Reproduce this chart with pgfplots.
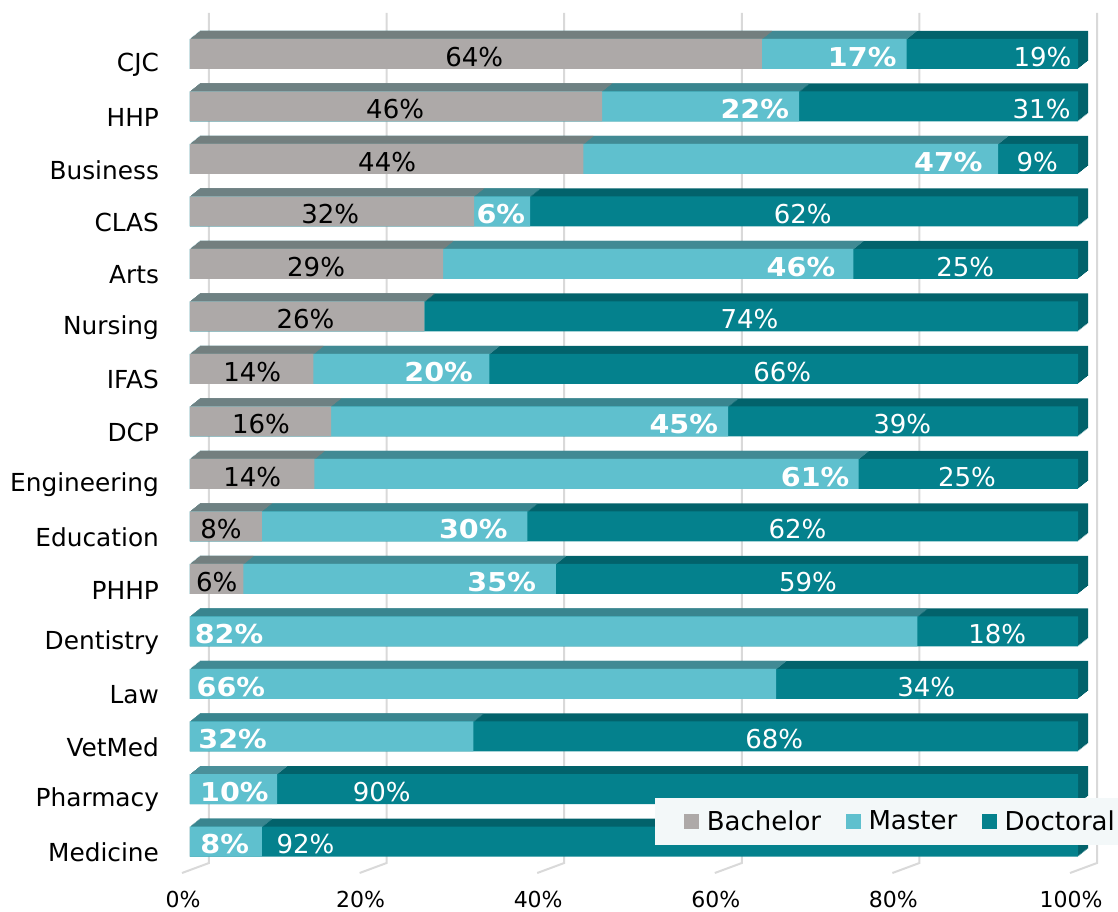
\documentclass[border=0pt]{standalone}
\usepackage{fontspec}
\setmainfont{DejaVu Sans}
\newfontfamily\wideb{DejaVu Sans}[FakeStretch=1.1]
\usepackage{pgfplots}
\usepackage{pgfplotstable}
\pgfplotsset{compat=1.18}
\definecolor{bfront}{HTML}{ADA9A8}
\definecolor{btop}{HTML}{88817F}
\definecolor{mfront}{HTML}{5FC0CE}
\definecolor{mtop}{HTML}{4A909A}
\definecolor{dfront}{HTML}{04818D}
\definecolor{dtop}{HTML}{02626B}
\definecolor{gridc}{HTML}{D9D9D9}
\definecolor{legfill}{HTML}{F3F8F9}

% i = row (0 = Medicine at bottom), b = Bachelor, m = Master, d = Doctoral (%)
\pgfplotstableread{
i  b     m     d
15 64.4  16.3  19.3
14 46.4  22.2  31.4
13 44.3  46.7  9.0
12 32.0  6.3   61.7
11 28.5  46.2  25.3
10 26.4  0.0   73.6
9  13.9  19.8  66.3
8  15.9  44.7  39.4
7  14.0  61.3  24.7
6  8.1   29.9  62.0
5  6.0   35.2  58.8
4  0.0   81.9  18.1
3  0.0   66.0  34.0
2  0.0   31.9  68.1
1  0.0   9.8   90.2
0  0.0   8.1   91.9
}\bars

\pgfplotstableread{
x    y  lab
32.0 15 64
23.1 14 46
22.2 13 44
15.8 12 32
14.2 11 29
13.0 10 26
7.0  9  14
8.0  8  16
7.0  7  14
3.5  6  8
3.0  5  6
}\blab

\pgfplotstableread{
x    y  lab
75.7 15 17
63.6 14 22
85.4 13 47
35.0 12 6
68.8 11 46
28.0 9  20
55.6 8  45
70.4 7  61
31.9 6  30
35.1 5  35
4.4  4  82
4.6  3  66
4.8  2  32
5.0  1  10
3.9  0  8
}\mlab

\pgfplotstableread{
x    y  lab
96.0 15 19
95.9 14 31
95.4 13 9
69.0 12 62
87.3 11 25
63.0 10 74
66.7 9  66
80.2 8  39
87.5 7  25
68.4 6  62
69.6 5  59
90.9 4  18
82.9 3  34
65.8 2  68
21.6 1  90
13.0 0  92
}\dlab

\begin{document}
\begin{tikzpicture}
\begin{axis}[
  scale only axis, width=444pt, height=430pt,
  xmin=0, xmax=100, ymin=-0.6, ymax=15.78,
  clip=false,
  axis line style={draw=none}, major tick length=0pt,
  xtick={0,20,...,100},
  xticklabels={0\%,20\%,40\%,60\%,80\%,100\%},
  ytick={0,...,15},
  yticklabels={Medicine,Pharmacy,VetMed,Law,Dentistry,PHHP,Education,Engineering,DCP,IFAS,Nursing,Arts,CLAS,Business,HHP,CJC},
  xticklabel style={font=\fontsize{11}{13}\selectfont, anchor=center, xshift=-3.5pt, yshift=-13pt},
  yticklabel style={font=\fontsize{12.4}{14}\selectfont, anchor=east, xshift=-12pt, yshift=-5.5pt},
  legend image code/.code={\fill[#1] (0pt,-3.5pt) rectangle (7pt,3.5pt); \path[draw=none, fill=none] (0pt,0pt) rectangle (9pt,0.1pt);},
  legend style={at={(0.5236,0.0872)}, anchor=north west, legend columns=3,
    draw=none, fill=legfill, font=\fontsize{13}{15}\selectfont,
    inner xsep=14.5pt, inner ysep=4pt,
    /tikz/every even column/.append style={column sep=10.5pt}},
]
\coordinate (O) at (rel axis cs:0,0);
% back wall grid and floor lines
\pgfplotsinvokeforeach{0,20,40,60,80,100}{
  \draw[gridc, line width=1pt] ([xshift=-4pt]axis cs:#1,-0.6) -- ([xshift=9.5pt,yshift=5pt]axis cs:#1,-0.6) -- ([xshift=9.5pt]axis cs:#1,15.78);
}
% 3D depth (top and side faces)
\pgfplotsinvokeforeach{8,7,6,5,4,3,2,1}{
  \addplot[xbar, bar width=15pt, xshift=#1*0.625pt, yshift=#1*0.5pt, fill=dtop, draw=none, forget plot]
    table[x expr=\thisrow{b}+\thisrow{m}+\thisrow{d}, y=i]{\bars};
  \addplot[xbar, bar width=15pt, xshift=#1*0.625pt, yshift=#1*0.5pt, fill=mtop, draw=none, forget plot]
    table[x expr=\thisrow{b}+\thisrow{m}, y=i]{\bars};
  \addplot[xbar, bar width=15pt, xshift=#1*0.625pt, yshift=#1*0.5pt, fill=btop, draw=none, forget plot]
    table[x=b, y=i]{\bars};
}
% front faces
\addplot[xbar, bar width=15pt, fill=dfront, draw=none, forget plot]
  table[x expr=\thisrow{b}+\thisrow{m}+\thisrow{d}, y=i]{\bars};
\addplot[xbar, bar width=15pt, fill=mfront, draw=none, forget plot]
  table[x expr=\thisrow{b}+\thisrow{m}, y=i]{\bars};
\addplot[xbar, bar width=15pt, fill=bfront, draw=none, forget plot]
  table[x=b, y=i]{\bars};
% data labels
\addplot[only marks, mark=none, forget plot, point meta=explicit symbolic,
  nodes near coords={\pgfplotspointmeta\%},
  every node near coord/.append style={anchor=center, inner sep=0pt, yshift=-1.5pt, font=\fontsize{13}{15}\selectfont, text=black}]
  table[x=x, y=y, meta=lab]{\blab};
\addplot[only marks, mark=none, forget plot, point meta=explicit symbolic,
  nodes near coords={\pgfplotspointmeta\%},
  every node near coord/.append style={anchor=center, inner sep=0pt, yshift=-1.5pt, font=\fontsize{13}{15}\selectfont\wideb\bfseries, text=white}]
  table[x=x, y=y, meta=lab]{\mlab};
\addplot[only marks, mark=none, forget plot, point meta=explicit symbolic,
  nodes near coords={\pgfplotspointmeta\%},
  every node near coord/.append style={anchor=center, inner sep=0pt, yshift=-1.5pt, font=\fontsize{13}{15}\selectfont, text=white}]
  table[x=x, y=y, meta=lab]{\dlab};
\addlegendimage{bfront}\addlegendentry{Bachelor}
\addlegendimage{mfront}\addlegendentry{Master}
\addlegendimage{dfront}\addlegendentry{Doctoral}
\end{axis}
\pgfresetboundingbox
\path[use as bounding box] ([shift={(-95pt,-19pt)}]O) rectangle ([shift={(464pt,436.5pt)}]O);
\end{tikzpicture}
\end{document}
